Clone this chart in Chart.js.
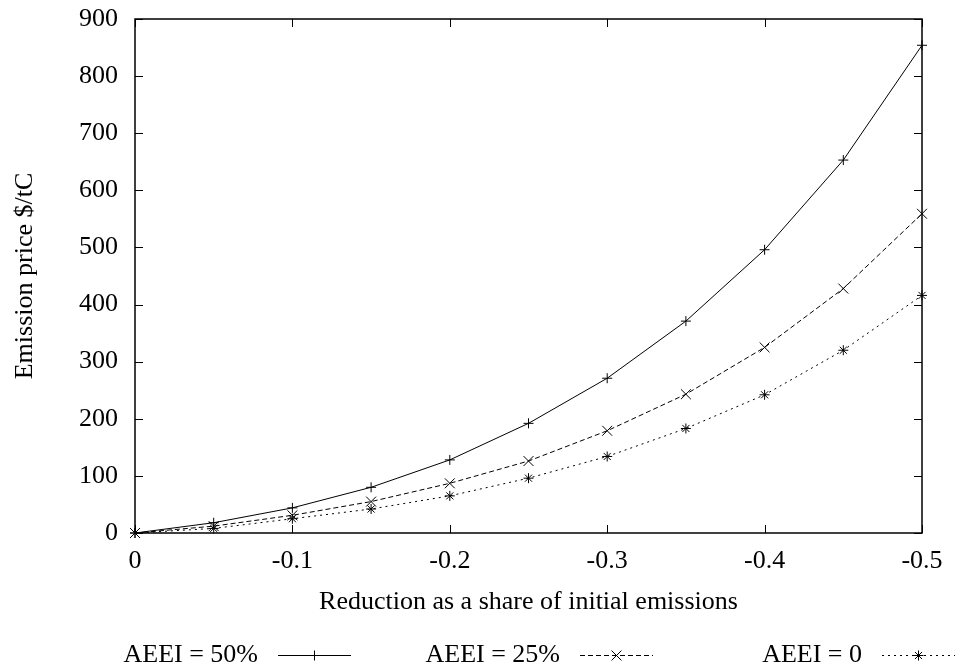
<!DOCTYPE html>
<html>
<head>
<meta charset="utf-8">
<script src="https://cdn.jsdelivr.net/npm/chart.js@4.4.1/dist/chart.umd.min.js"></script>
<style>
  html, body { margin: 0; padding: 0; background: #fff; }
  canvas { display: block; }
</style>
</head>
<body>
<canvas id="chart" width="957" height="669"></canvas>
<script>
// reduction as share of initial emissions
const reductions = [0, -0.05, -0.1, -0.15, -0.2, -0.25, -0.3, -0.35, -0.4, -0.45, -0.5];

// emission price $/tC
const aeei50 = [0, 18, 44, 80, 128, 192, 271, 371, 496, 653, 854];
const aeei25 = [0, 12, 31, 55, 87, 126, 179, 243, 325, 428, 559];
const aeei0  = [0, 8, 25, 42, 65, 96, 134, 183, 242, 320, 416];

const seriesLabels = ["AEEI = 50%", "AEEI = 25%", "AEEI = 0"];

const FONT = "'Liberation Serif', 'Times New Roman', serif";
const FONT_SIZE = 26;

function toPoints(ys) {
  return reductions.map((x, i) => ({ x: x, y: ys[i] }));
}

function makeSet(label, ys, dash, style, radius) {
  return {
    label: label,
    data: toPoints(ys),
    borderColor: "#000",
    backgroundColor: "#000",
    borderWidth: 1,
    borderDash: dash,
    pointStyle: style,
    pointRadius: radius,
    pointBorderWidth: 1,
    pointBorderColor: "#000",
    pointHoverRadius: radius,
    tension: 0,
    fill: false,
    clip: false
  };
}

// gnuplot-like inner ticks on all four sides plus frame
const frameTicks = {
  id: "frameTicks",
  afterDraw(chart) {
    const { ctx, chartArea: a } = chart;
    const xs = chart.scales.x, ys = chart.scales.y;
    const len = 8;
    ctx.save();
    ctx.strokeStyle = "#000";
    ctx.lineWidth = 1.5;
    ctx.strokeRect(a.left, a.top, a.right - a.left, a.bottom - a.top);
    ctx.beginPath();
    for (const t of xs.ticks) {
      const px = Math.round(xs.getPixelForValue(t.value)) + 0.5;
      ctx.moveTo(px, a.bottom); ctx.lineTo(px, a.bottom - len);
      ctx.moveTo(px, a.top); ctx.lineTo(px, a.top + len);
    }
    for (const t of ys.ticks) {
      const py = Math.round(ys.getPixelForValue(t.value)) + 0.5;
      ctx.moveTo(a.left, py); ctx.lineTo(a.left + len, py);
      ctx.moveTo(a.right, py); ctx.lineTo(a.right - len, py);
    }
    ctx.lineWidth = 1;
    ctx.stroke();
    ctx.restore();
  }
};

// legend drawn gnuplot style: right aligned text, then line sample with marker
const keyBelow = {
  id: "keyBelow",
  afterDraw(chart) {
    const { ctx } = chart;
    const y = 655;
    ctx.save();
    ctx.font = FONT_SIZE + "px " + FONT;
    ctx.fillStyle = "#000";
    ctx.textAlign = "right";
    ctx.textBaseline = "middle";
    chart.data.datasets.forEach((ds, i) => {
      const x0 = 278 + i * 302;
      const x1 = x0 + 73;
      ctx.fillText(ds.label, x0 - 20, y);
      ctx.strokeStyle = "#000";
      ctx.lineWidth = 1;
      ctx.setLineDash(ds.borderDash || []);
      ctx.beginPath();
      ctx.moveTo(x0, y + 0.5);
      ctx.lineTo(x1, y + 0.5);
      ctx.stroke();
      ctx.setLineDash([]);
      Chart.helpers.drawPoint(ctx, {
        pointStyle: ds.pointStyle,
        radius: ds.pointRadius,
        rotation: 0,
        borderWidth: 1
      }, (x0 + x1) / 2, y + 0.5);
    });
    ctx.restore();
  }
};

new Chart(document.getElementById("chart"), {
  type: "line",
  data: {
    datasets: [
      makeSet(seriesLabels[0], aeei50, [], "cross", 5),
      makeSet(seriesLabels[1], aeei25, [5, 3], "crossRot", 7),
      makeSet(seriesLabels[2], aeei0, [2, 4], "star", 5)
    ]
  },
  options: {
    responsive: false,
    animation: false,
    events: [],
    layout: { padding: { left: 0, right: 35, top: 19, bottom: 0 } },
    plugins: {
      legend: { display: false },
      tooltip: { enabled: false }
    },
    scales: {
      x: {
        type: "linear",
        min: -0.5,
        max: 0,
        reverse: true,
        afterFit: (s) => { s.height = 136; s.paddingLeft = 0; s.paddingRight = 0; },
        grid: { display: false, drawTicks: false },
        border: { display: false },
        ticks: {
          stepSize: 0.1,
          padding: 13,
          color: "#000",
          font: { family: FONT, size: FONT_SIZE },
          callback: (v) => (Math.abs(v) < 1e-9 ? "0" : v.toFixed(1))
        },
        title: {
          display: true,
          text: "Reduction as a share of initial emissions",
          color: "#000",
          font: { family: FONT, size: FONT_SIZE },
          padding: { top: 0, bottom: 51 }
        }
      },
      y: {
        type: "linear",
        min: 0,
        max: 900,
        afterFit: (s) => { s.width = 135; s.paddingTop = 0; s.paddingBottom = 0; },
        grid: { display: false, drawTicks: false },
        border: { display: false },
        ticks: {
          stepSize: 100,
          padding: 17,
          color: "#000",
          font: { family: FONT, size: FONT_SIZE }
        },
        title: {
          display: true,
          text: "Emission price $/tC",
          color: "#000",
          font: { family: FONT, size: FONT_SIZE },
          padding: { top: 10, bottom: 0 }
        }
      }
    }
  },
  plugins: [frameTicks, keyBelow]
});
</script>
</body>
</html>
